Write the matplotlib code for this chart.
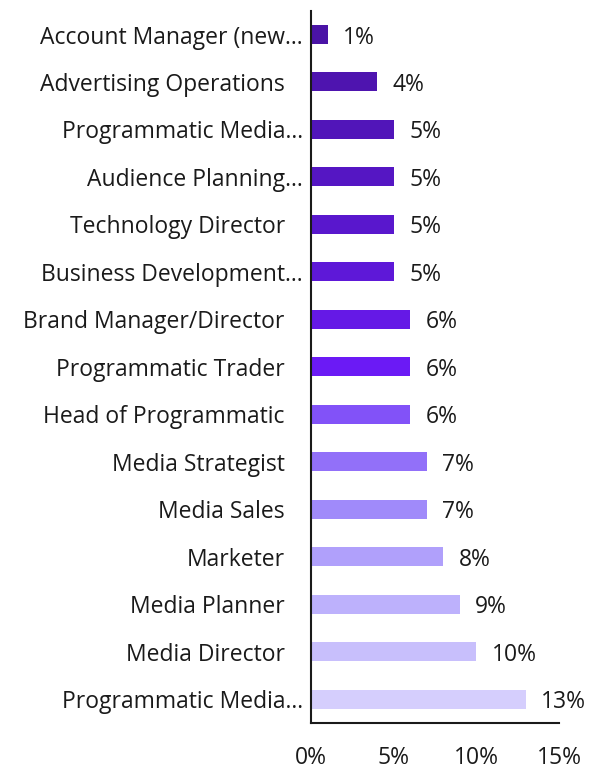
import matplotlib
matplotlib.use("Agg")
import matplotlib.pyplot as plt

roles = [
    "Account Manager (new…",
    "Advertising Operations",
    "Programmatic Media…",
    "Audience Planning…",
    "Technology Director",
    "Business Development…",
    "Brand Manager/Director",
    "Programmatic Trader",
    "Head of Programmatic",
    "Media Strategist",
    "Media Sales",
    "Marketer",
    "Media Planner",
    "Media Director",
    "Programmatic Media…",
]
shares = [1, 4, 5, 5, 5, 5, 6, 6, 6, 7, 7, 8, 9, 10, 13]
colors = [
    "#4a13a6", "#4e14af", "#5115b9", "#5516c3", "#5917cd",
    "#5e18d8", "#6519e6", "#6b1af5", "#8252f8", "#9270f9",
    "#a08afa", "#b0a0fb", "#bdb1fc", "#c8bffc", "#d5cefd",
]
xticks = [0, 5, 10, 15]

plt.rcParams["font.family"] = ["Open Sans", "DejaVu Sans"]
fs = 16.5
ink = "#1a1a1a"

fig = plt.figure(figsize=(6.03, 7.69), dpi=100)
ax = fig.add_axes([0.516, 0.06, 0.411, 0.926])

ypos = list(range(len(roles)))
ax.barh(ypos, shares, height=0.4, color=colors)
ax.set_ylim(len(roles) - 0.5, -0.5)
ax.set_xlim(0, 15)

for y, v in zip(ypos, shares):
    ax.annotate(f"{v}%", xy=(v, y), xytext=(11, 0), textcoords="offset points",
                ha="left", va="center_baseline", fontsize=fs, color=ink)

ax.set_yticks(ypos)
ax.set_yticklabels(roles, fontsize=fs, color=ink, va="center_baseline")
ax.set_xticks(xticks)
ax.set_xticklabels([f"{t}%" for t in xticks], fontsize=fs, color=ink)
ax.tick_params(axis="both", length=0)
ax.tick_params(axis="x", pad=17)
for tick, name in zip(ax.yaxis.get_major_ticks(), roles):
    tick.set_pad(6 if name.endswith("…") else 19)

for side in ["top", "right"]:
    ax.spines[side].set_visible(False)
for side in ["left", "bottom"]:
    ax.spines[side].set_linewidth(1.5)
    ax.spines[side].set_color(ink)

fig.savefig("out.png", dpi=100)
